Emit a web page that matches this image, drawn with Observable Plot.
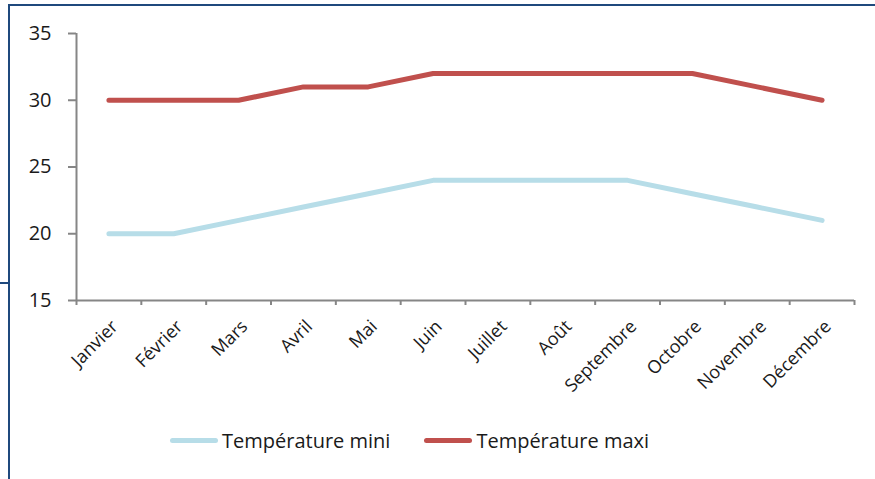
<!DOCTYPE html>
<html>
<head>
<meta charset="utf-8">
<script src="https://cdn.jsdelivr.net/npm/d3@7"></script>
<script src="https://cdn.jsdelivr.net/npm/@observablehq/plot@0.6"></script>
<style>
  html, body { margin: 0; padding: 0; background: #fff; overflow: hidden; }
  #wrap { position: relative; width: 875px; height: 479px; font-family: "Open Sans", sans-serif; }
  #frame { position: absolute; left: 8px; top: 4px; width: 1000px; height: 1000px; border: 2px solid #1F497D; box-sizing: border-box; }
  #nub { position: absolute; left: 0; top: 282px; width: 9px; height: 2px; background: #1F497D; }
  #chart { position: absolute; left: 0; top: 0; }
  #legend { position: absolute; top: 427px; left: 170px; display: flex; align-items: center; font-size: 20px; color: #1a1a1a; white-space: nowrap; }
  .sw { display: inline-block; width: 48px; height: 5px; border-radius: 3px; margin-right: 4px; }
  .item { display: flex; align-items: center; }
</style>
</head>
<body>
<div id="wrap">
  <div id="frame"></div>
  <div id="nub"></div>
  <div id="chart"></div>
  <div id="legend"></div>
</div>
<script>
const months = ["Janvier","Février","Mars","Avril","Mai","Juin","Juillet","Août","Septembre","Octobre","Novembre","Décembre"];
const tempMini = [20,20,21,22,23,24,24,24,24,23,22,21];
const tempMaxi = [30,30,30,31,31,32,32,32,32,32,31,30];
const yTicks = [15,20,25,30,35];
const seriesNames = ["Température mini","Température maxi"];
const seriesColors = ["#B7DDE8","#C0504D"];

const rows = [];
months.forEach((m, i) => {
  rows.push({series: seriesNames[0], i: i + 0.5, month: m, value: tempMini[i]});
  rows.push({series: seriesNames[1], i: i + 0.5, month: m, value: tempMaxi[i]});
});
const labelRows = months.map((m, i) => ({i: i + 0.5, month: m}));
const boundaries = d3.range(months.length + 1);

const chart = Plot.plot({
  width: 875,
  height: 410,
  marginLeft: 76,
  marginRight: 21,
  marginTop: 33,
  marginBottom: 110,
  style: {fontFamily: "Open Sans, sans-serif", color: "#1a1a1a", background: "transparent"},
  x: {type: "linear", domain: [0, months.length], axis: null},
  y: {domain: [15, 35], axis: null},
  color: {domain: seriesNames, range: seriesColors},
  marks: [
    Plot.axisY({ticks: yTicks, label: null, tickSize: 8, tickPadding: 17, fontSize: 20, stroke: "#868686", strokeWidth: 2, strokeOpacity: 1, fill: "#1a1a1a"}),
    Plot.ruleX([0], {y1: 15, y2: 35, stroke: "#868686", strokeWidth: 2}),
    Plot.axisX({ticks: boundaries, label: null, tickSize: 5, tickFormat: () => "", stroke: "#868686", strokeWidth: 2, strokeOpacity: 1}),
    Plot.ruleY([15], {x1: 0, x2: months.length, stroke: "#868686", strokeWidth: 2}),
    Plot.text(labelRows, {x: "i", y: () => 15, text: "month", rotate: -45, textAnchor: "end", dx: 6, dy: 23, fontSize: 18, fill: "#1a1a1a"}),
    Plot.line(rows, {x: "i", y: "value", z: "series", stroke: "series", strokeWidth: 5, strokeLinecap: "round", strokeLinejoin: "round"})
  ]
});
document.getElementById("chart").appendChild(chart);

const legend = document.getElementById("legend");
seriesNames.forEach((name, k) => {
  const item = document.createElement("div");
  item.className = "item";
  if (k > 0) item.style.marginLeft = "34px";
  const sw = document.createElement("span");
  sw.className = "sw";
  sw.style.background = seriesColors[k];
  const t = document.createElement("span");
  t.textContent = name;
  item.appendChild(sw);
  item.appendChild(t);
  legend.appendChild(item);
});
</script>
</body>
</html>
